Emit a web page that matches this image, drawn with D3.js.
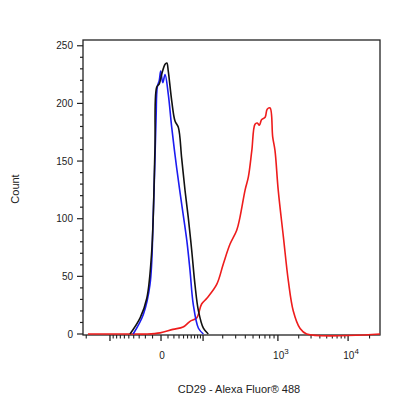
<!DOCTYPE html>
<html><head><meta charset="utf-8">
<script src="https://cdn.jsdelivr.net/npm/d3@7"></script>
<style>body{margin:0;background:#fff}svg{display:block}text{font-family:"Liberation Sans",Arial,sans-serif;fill:#222}</style>
</head><body><svg id="c" width="416" height="416"></svg>
<script>
// channel units (0-1024) vs count
const blackX=[162,197,220,237,248,254,263,271,283,289,294,306,317,329,340,352,363,375,386,398,415,432];
const blackY=[0,14,31,72,159,214,217,225,234,235,228,202,185,179,153,124,101,72,43,20,5,0];
const blueX=[173,208,231,242,252,256,263,268,275,283,294,306,323,340,358,369,380,398,415];
const blueY=[0,17,43,101,188,214,220,228,218,225,208,179,144,113,81,55,26,5,0];
const redX=[17,110,169,221,266,310,345,369,392,409,427,461,484,507,530,541,559,570,582,593,601,608,616,628,635,645,654,662,673,691,708,725,748,771,1024];
const redY=[0,0,0,0,1,4,6,11,14,26,31,43,61,78,90,101,125,136,159,182,183,181,186,188,195,196,171,159,125,84,46,20,5,0,0];
// fluorescence tick positions
const majorFl=[-100,0,100,1000,10000];
const majorCh=[93,269,414,672,914];
const labelFl=[0,1000,10000];
const labelBase=["0","10","10"];
const labelExp=["","3","4"];
const minorFl=[-200,-90,-80,-70,-60,-50,-40,-30,-20,-10,10,20,30,40,50,60,70,80,90,200,300,400,500,600,700,800,900,2000,3000,4000,5000,6000,7000,8000,9000,20000];
const yTicks=[0,50,100,150,200,250];

const svg=d3.select("#c");
const L=83,R=380,T=40,B=335;
const x=d3.scaleLinear().domain([0,1024]).range([L,R]);
const y=d3.scaleLinear().domain([0,255]).range([334,T]);
const tr=v=>Math.sign(v)*Math.log1p(Math.abs(v)/50);
const fl2ch=d3.scaleLinear().domain(majorFl.map(tr)).range(majorCh);
const fx=v=>x(fl2ch(tr(v)));

svg.append("rect").attr("x",L).attr("y",T).attr("width",R-L).attr("height",B-T).attr("fill","none").attr("stroke","#222").attr("stroke-width",1.3);

const ym=d3.range(0,251,10);
svg.selectAll(".ym").data(ym).join("line").attr("x1",L).attr("x2",d=>yTicks.includes(d)?L-6:L-3).attr("y1",d=>y(d)).attr("y2",d=>y(d)).attr("stroke","#222").attr("stroke-width",1.2);
svg.selectAll(".yl").data(yTicks).join("text").attr("x",L-10).attr("y",d=>y(d)+3.5).attr("text-anchor","end").attr("font-size",10).text(d=>d);

svg.selectAll(".xM").data(majorFl).join("line").attr("x1",fx).attr("x2",fx).attr("y1",B).attr("y2",B+6).attr("stroke","#222").attr("stroke-width",1.3);
svg.selectAll(".xm").data(minorFl).join("line").attr("x1",fx).attr("x2",fx).attr("y1",B).attr("y2",B+3.5).attr("stroke","#222").attr("stroke-width",1.1);
const xl=svg.selectAll(".xl").data(labelFl).join("text").attr("x",d=>fx(d)+(d===0?1:3)).attr("y",B+24).attr("text-anchor","middle").attr("font-size",10);
xl.append("tspan").text((d,i)=>labelBase[i]);
xl.append("tspan").attr("dy",-5).attr("font-size",8).text((d,i)=>labelExp[i]);

svg.append("text").attr("transform","translate(19,189) rotate(-90)").attr("text-anchor","middle").attr("font-size",11).text("Count");
svg.append("text").attr("x",239).attr("y",393).attr("text-anchor","middle").attr("font-size",11).text("CD29 - Alexa Fluor® 488");

const line=d3.line().x(d=>x(d[0])).y(d=>y(d[1])).curve(d3.curveCatmullRom);
const series=[[redX,redY,"#ee1c1c"],[blueX,blueY,"#1c1cf0"],[blackX,blackY,"#111"]];
series.forEach(([xs,ys,c])=>{
  svg.append("path").datum(xs.map((v,i)=>[v,ys[i]])).attr("d",line).attr("fill","none").attr("stroke",c).attr("stroke-width",1.6);
});
</script></body></html>
